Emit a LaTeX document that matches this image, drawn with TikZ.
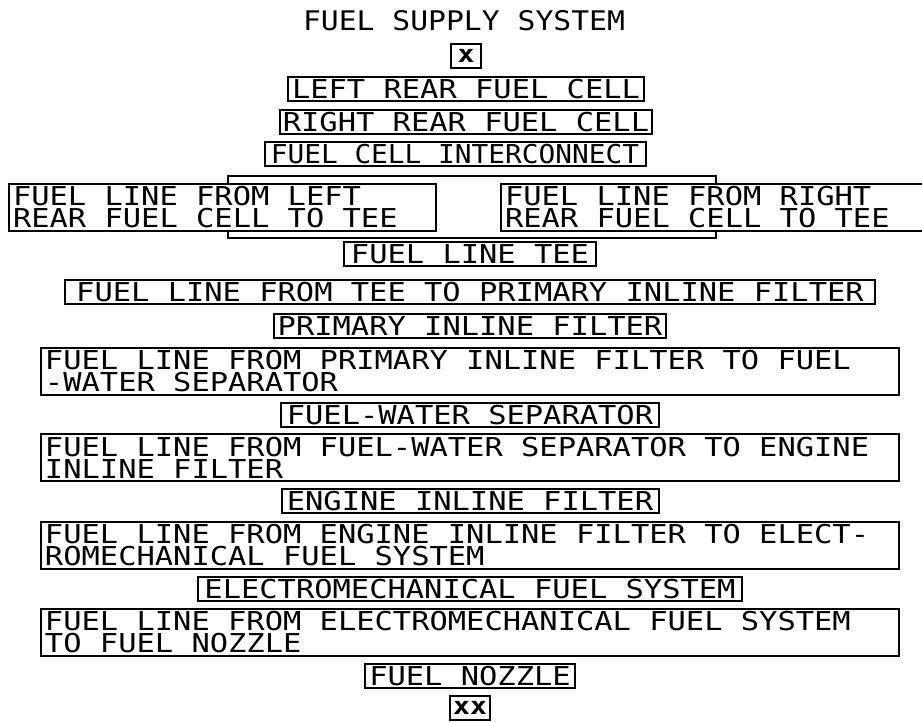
\documentclass[tikz,border=0pt]{standalone}
\usepackage{fontspec}
\newfontfamily\plotfont[FakeStretch=1.17]{DejaVu Sans Mono}
\newfontfamily\plotnarrow[FakeStretch=1.07]{DejaVu Sans Mono}
\newfontfamily\plottitle[FakeStretch=1.10]{DejaVu Sans Mono}
\usetikzlibrary{positioning}

\begin{document}
\begin{tikzpicture}[
    x=1pt, y=-1pt,
    node distance=7pt,
    part/.style={draw, rectangle, line width=2pt,
                 font=\plotfont\fontsize{26}{22}\selectfont,
                 inner xsep=3pt, inner ysep=0pt, minimum height=24pt},
    pipe/.style={draw, rectangle, line width=2pt, align=flush left,
                 font=\plotfont\fontsize{26}{22}\selectfont,
                 inner xsep=4pt, inner ysep=0pt, minimum height=47pt},
    tag/.style={draw, rectangle, line width=2pt,
                font=\plotfont\bfseries\fontsize{24}{24}\selectfont,
                inner sep=0pt, minimum height=24pt},
    link/.style={line width=2pt},
  ]
    \useasboundingbox (0,0) rectangle (922,721);

    \node[font=\plottitle\fontsize{27}{27}\selectfont] (title) at (464,21) {FUEL SUPPLY SYSTEM};
    \node[tag, minimum width=30pt] (start) at (466,56) {x};
    \node[part, minimum width=356pt, below=of start] (lrfc) {LEFT REAR FUEL CELL};
    \node[part, minimum width=366pt, below=of lrfc] (rrfc) {RIGHT REAR FUEL CELL};
    \node[part, font=\plotnarrow\fontsize{26}{22}\selectfont, minimum width=381pt,
          below=6pt of rrfc, xshift=-11pt] (fci) {FUEL CELL INTERCONNECT};

    % parallel branch
    \node[pipe, text width=419pt, anchor=north west] (lfl) at (8,183) {FUEL LINE FROM LEFT\\REAR FUEL CELL TO TEE};
    \node[pipe, text width=430pt, anchor=north west] (rfl) at (500,183) {FUEL LINE FROM RIGHT\\REAR FUEL CELL TO TEE};
    \draw[link] (228,0 |- lfl.north) -- ++(0,-7) -| (716,0 |- rfl.north);
    \draw[link] (228,0 |- lfl.south) -- ++(0,6) -| (716,0 |- rfl.south);

    \node[part, minimum width=252pt] (tee) at (470,254) {FUEL LINE TEE};
    \node[part, minimum width=810pt, below=12pt of tee] (t2p) {FUEL LINE FROM TEE TO PRIMARY INLINE FILTER};
    \node[part, minimum width=392pt, below=8pt of t2p] (pif) {PRIMARY INLINE FILTER};
    \node[pipe, text width=850pt, below=8pt of pif] (p2w) {FUEL LINE FROM PRIMARY INLINE FILTER TO FUEL\\-WATER SEPARATOR};
    \node[part, minimum width=378pt, below=6pt of p2w] (fws) {FUEL-WATER SEPARATOR};
    \node[pipe, text width=850pt, below=5pt of fws] (w2e) {FUEL LINE FROM FUEL-WATER SEPARATOR TO ENGINE\\INLINE FILTER};
    \node[part, minimum width=377pt, below=6pt of w2e] (eif) {ENGINE INLINE FILTER};
    \node[pipe, text width=850pt, below=of eif] (e2m) {FUEL LINE FROM ENGINE INLINE FILTER TO ELECT-\\ROMECHANICAL FUEL SYSTEM};
    \node[part, minimum width=544pt, below=6pt of e2m] (emfs) {ELECTROMECHANICAL FUEL SYSTEM};
    \node[pipe, text width=850pt, below=6pt of emfs] (m2n) {FUEL LINE FROM ELECTROMECHANICAL FUEL SYSTEM\\TO FUEL NOZZLE};
    \node[part, minimum width=210pt, below=6pt of m2n] (noz) {FUEL NOZZLE};
    \node[tag, minimum width=40pt, below=6pt of noz] (finish) {xx};
  \end{tikzpicture}
\end{document}
